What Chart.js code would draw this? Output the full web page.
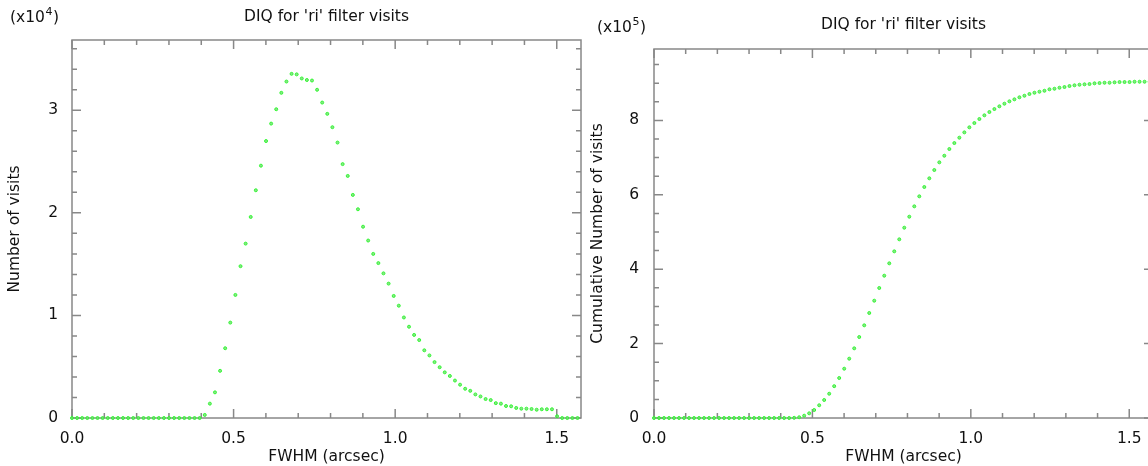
<!DOCTYPE html>
<html>
<head>
<meta charset="utf-8">
<script src="https://cdn.jsdelivr.net/npm/chart.js@4.4.1/dist/chart.umd.min.js"></script>
<style>
  html, body { margin: 0; padding: 0; background: #fff; overflow: hidden; }
  body { width: 1148px; height: 466px; position: relative; }
  canvas { position: absolute; top: 0; }
  #histChart { left: 0; }
  #cumChart { left: 580px; }
</style>
</head>
<body>
<canvas id="histChart" width="590" height="466"></canvas>
<canvas id="cumChart" width="580" height="466"></canvas>
<script>
// FWHM bin positions (arcsec)
var fwhmBins = [
  0, 0.0158, 0.0316, 0.0474, 0.0632, 0.079, 0.0948, 0.1106, 0.1264, 0.1422,
  0.158, 0.1738, 0.1896, 0.2054, 0.2212, 0.237, 0.2528, 0.2686, 0.2844, 0.3002,
  0.316, 0.3318, 0.3476, 0.3634, 0.3792, 0.395, 0.4108, 0.4266, 0.4424, 0.4582,
  0.474, 0.4898, 0.5056, 0.5214, 0.5372, 0.553, 0.5688, 0.5846, 0.6004, 0.6162,
  0.632, 0.6478, 0.6636, 0.6794, 0.6952, 0.711, 0.7268, 0.7426, 0.7584, 0.7742,
  0.79, 0.8058, 0.8216, 0.8374, 0.8532, 0.869, 0.8848, 0.9006, 0.9164, 0.9322,
  0.948, 0.9638, 0.9796, 0.9954, 1.0112, 1.027, 1.0428, 1.0586, 1.0744, 1.0902,
  1.106, 1.1218, 1.1376, 1.1534, 1.1692, 1.185, 1.2008, 1.2166, 1.2324, 1.2482,
  1.264, 1.2798, 1.2956, 1.3114, 1.3272, 1.343, 1.3588, 1.3746, 1.3904, 1.4062,
  1.422, 1.4378, 1.4536, 1.4694, 1.4852, 1.501, 1.5168, 1.5326, 1.5484, 1.5642
];

// visits per bin
var visitsPerBin = [
  0, 0, 0, 0, 0, 0, 0, 0, 0, 0,
  0, 0, 0, 0, 0, 0, 0, 0, 0, 0,
  0, 0, 0, 0, 0, 0, 300, 1400, 2500, 4600,
  6800, 9300, 12000, 14800, 17000, 19600, 22200, 24600, 27000, 28700,
  30100, 31700, 32800, 33550, 33500, 33100, 32950, 32900, 32000, 30750,
  29650, 28350, 26850, 24750, 23600, 21750, 20350, 18650, 17300, 16000,
  15100, 14100, 13100, 11900, 10950, 9800, 8900, 8100, 7600, 6600,
  6100, 5450, 4950, 4450, 4100, 3650, 3250, 2850, 2650, 2300,
  2100, 1850, 1750, 1450, 1400, 1170, 1140, 980, 910, 910,
  880, 810, 850, 850, 850, 170, 0, 0, 0, 0
];

// running total of visits
var cumulativeVisits = [
  0, 0, 0, 0, 0, 0, 0, 0, 0, 0,
  0, 0, 0, 0, 0, 0, 0, 0, 0, 0,
  0, 0, 0, 0, 0, 0, 0, 0, 500, 1900,
  6200, 12600, 21500, 34200, 48400, 65300, 85600, 107500, 132600, 159500,
  187300, 217700, 249100, 282300, 315400, 349500, 382600, 415800, 448000, 480300,
  511600, 541200, 569000, 595900, 621000, 644300, 666700, 687300, 705100, 723100,
  739200, 753600, 767900, 781400, 793000, 803800, 813700, 822600, 830600, 837900,
  845000, 851300, 856700, 862100, 866400, 871000, 874500, 877200, 879800, 883600,
  885200, 887900, 889800, 892500, 894400, 896000, 897000, 897800, 899700, 900500,
  901300, 901300, 902400, 903200, 903200, 903200, 904000, 904000, 904000, 904000
];

var xTickValues = [0, 0.5, 1.0, 1.5];
var histTickValues = [0, 10000, 20000, 30000];
var cumTickValues = [0, 200000, 400000, 600000, 800000];

Chart.defaults.font.family = '"DejaVu Sans", sans-serif';
Chart.defaults.font.size = 15.5;
Chart.defaults.color = '#111';

function isMajor(v, list) {
  for (var i = 0; i < list.length; i++) {
    if (Math.abs(list[i] - v) < 1e-6) return true;
  }
  return false;
}

// box around the plot with inward ticks on all four sides
var framePlugin = {
  id: 'frame',
  beforeDatasetsDraw: function(chart, args, opts) {
    var ctx = chart.ctx, a = chart.chartArea;
    var xs = chart.scales.x, ys = chart.scales.y;
    ctx.save();
    ctx.strokeStyle = '#888';
    ctx.lineWidth = 1.5;
    ctx.strokeRect(a.left, a.top, a.right - a.left, a.bottom - a.top);
    ctx.beginPath();
    var k, v, p, len;
    for (k = 0; k * opts.xMinor <= xs.max + 1e-9; k++) {
      v = k * opts.xMinor;
      p = xs.getPixelForValue(v);
      len = isMajor(v, xTickValues) ? 9 : 5;
      ctx.moveTo(p, a.bottom); ctx.lineTo(p, a.bottom - len);
      ctx.moveTo(p, a.top); ctx.lineTo(p, a.top + len);
    }
    for (k = 0; k * opts.yMinor <= ys.max + 1e-6; k++) {
      v = k * opts.yMinor;
      p = ys.getPixelForValue(v);
      len = isMajor(v, opts.yMajor) ? 9 : 5;
      ctx.moveTo(a.left, p); ctx.lineTo(a.left + len, p);
      ctx.moveTo(a.right, p); ctx.lineTo(a.right - len, p);
    }
    ctx.stroke();
    ctx.restore();
  },
  afterDraw: function(chart, args, opts) {
    var ctx = chart.ctx, a = chart.chartArea;
    ctx.save();
    ctx.fillStyle = '#111';
    ctx.font = '15.5px "DejaVu Sans", sans-serif';
    ctx.textBaseline = 'middle';
    ctx.textAlign = 'center';
    ctx.fillText(opts.title, (a.left + a.right) / 2, opts.titleY);
    // multiplier note: "(x10" + raised exponent + ")"
    ctx.textAlign = 'left';
    var x = opts.noteX;
    ctx.fillText('(x10', x, opts.noteY);
    x += ctx.measureText('(x10').width;
    ctx.font = '11px "DejaVu Sans", sans-serif';
    ctx.fillText(opts.power, x + 0.5, opts.noteY - 6);
    x += ctx.measureText(opts.power).width + 1;
    ctx.font = '15.5px "DejaVu Sans", sans-serif';
    ctx.fillText(')', x, opts.noteY);
    ctx.restore();
  }
};

function points(values) {
  return fwhmBins.map(function(x, i) { return { x: x, y: values[i] }; });
}

function buildChart(id, values, cfg) {
  return new Chart(document.getElementById(id), {
    type: 'scatter',
    data: {
      datasets: [{
        data: points(values),
        pointRadius: 1.5,
        pointBorderWidth: 1,
        borderColor: 'rgb(50,250,50)',
        backgroundColor: 'rgba(110,215,110,0.8)',
        pointHoverRadius: 1.5,
        clip: false
      }]
    },
    options: {
      responsive: false,
      animation: false,
      devicePixelRatio: 1,
      layout: { padding: { left: 0, right: cfg.padRight, top: cfg.padTop, bottom: 0 } },
      plugins: {
        legend: { display: false },
        tooltip: { enabled: false },
        frame: {
          title: "DIQ for 'ri' filter visits",
          titleY: cfg.titleY,
          power: cfg.power,
          noteX: cfg.noteX,
          noteY: cfg.noteY,
          xMinor: 0.1,
          yMinor: cfg.yMinor,
          yMajor: cfg.yTicks
        }
      },
      scales: {
        x: {
          type: 'linear',
          min: 0,
          max: 1.575,
          grid: { display: false },
          border: { display: false },
          afterBuildTicks: function(s) {
            s.ticks = xTickValues.map(function(v) { return { value: v }; });
          },
          ticks: {
            padding: 4,
            maxRotation: 0,
            autoSkip: false,
            callback: function(v) { return Number(v).toFixed(1); }
          },
          title: { display: true, text: 'FWHM (arcsec)', padding: { top: 0, bottom: 0 } },
          afterFit: function(s) { s.height = 48; }
        },
        y: {
          type: 'linear',
          min: 0,
          max: cfg.yMax,
          grid: { display: false },
          border: { display: false },
          afterBuildTicks: function(s) {
            s.ticks = cfg.yTicks.map(function(v) { return { value: v }; });
          },
          ticks: {
            padding: cfg.yLabelPad,
            autoSkip: false,
            callback: function(v) { return String(Math.round(v / cfg.yDiv)); }
          },
          title: { display: true, text: cfg.yTitle, padding: { top: cfg.yTitlePad, bottom: 0 } },
          afterFit: function(s) { s.width = cfg.yWidth; }
        }
      }
    },
    plugins: [framePlugin]
  });
}

buildChart('histChart', visitsPerBin, {
  yMax: 36850,
  yTicks: histTickValues,
  yMinor: 2000,
  yDiv: 10000,
  yTitle: 'Number of visits',
  yTitlePad: 6,
  yLabelPad: 6,
  yWidth: 72,
  padRight: 9,
  padTop: 40,
  titleY: 17,
  power: '4',
  noteX: 10,
  noteY: 18
});

buildChart('cumChart', cumulativeVisits, {
  yMax: 992000,
  yTicks: cumTickValues,
  yMinor: 50000,
  yDiv: 100000,
  yTitle: 'Cumulative Number of visits',
  yTitlePad: 9,
  yLabelPad: 7,
  yWidth: 74,
  padRight: 7,
  padTop: 49,
  titleY: 25,
  power: '5',
  noteX: 17,
  noteY: 28
});
</script>
</body>
</html>
